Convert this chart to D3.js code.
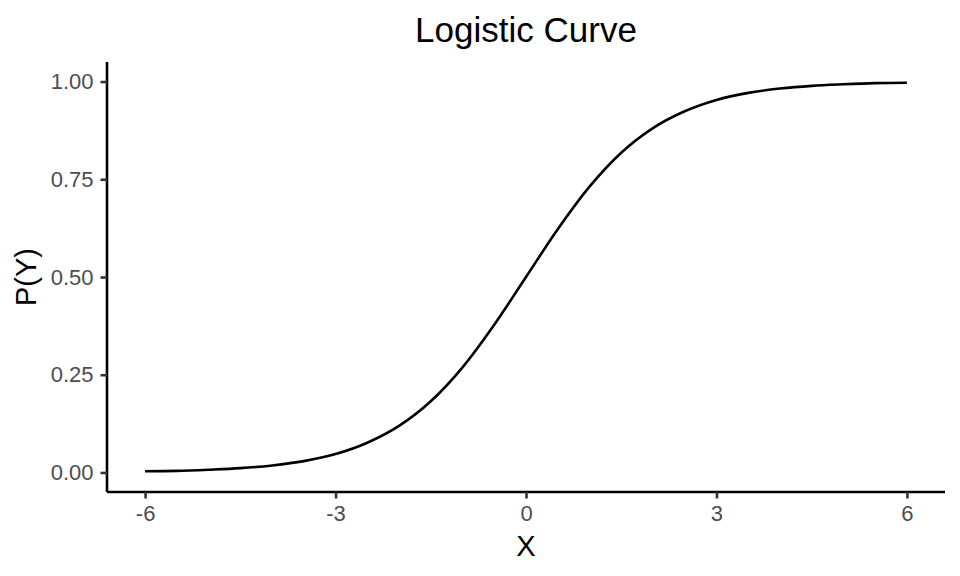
<!DOCTYPE html>
<html>
<head>
<meta charset="utf-8">
<script src="https://cdn.jsdelivr.net/npm/d3@7"></script>
<style>
  body { margin: 0; background: #fff; }
  svg text { font-family: "Liberation Sans", Arial, sans-serif; }
</style>
</head>
<body>
<svg id="chart" width="960" height="576"></svg>
<script>
// values
var xs = [-6, -5.5, -5, -4.5, -4, -3.5, -3, -2.5, -2, -1.5, -1, -0.5, 0,
          0.5, 1, 1.5, 2, 2.5, 3, 3.5, 4, 4.5, 5, 5.5, 6];
var ys = [0.003, 0.004, 0.007, 0.011, 0.018, 0.029, 0.047, 0.076, 0.119, 0.182, 0.269, 0.378, 0.5,
          0.622, 0.731, 0.818, 0.881, 0.924, 0.953, 0.971, 0.982, 0.989, 0.993, 0.996, 0.997];
var xTicks = [-6, -3, 0, 3, 6];
var yTicks = [0, 0.25, 0.5, 0.75, 1];

var svg = d3.select("#chart");
var margin = {top: 62, right: 15, bottom: 84, left: 107};
var width = 960 - margin.left - margin.right,
    height = 576 - margin.top - margin.bottom;

var x = d3.scaleLinear().domain([-6.6, 6.6]).range([0, width]);
var y = d3.scaleLinear().domain([-0.05, 1.05]).range([height, 0]);

var g = svg.append("g").attr("transform", "translate(" + margin.left + "," + margin.top + ")");

var pts = xs.map(function(d, i) { return {x: d, y: ys[i]}; });

var line = d3.line()
    .x(function(d) { return x(d.x); })
    .y(function(d) { return y(d.y); })
    .curve(d3.curveMonotoneX);

g.append("path")
    .datum(pts)
    .attr("fill", "none")
    .attr("stroke", "#000")
    .attr("stroke-width", 2.6)
    .attr("d", line);

var xAxis = g.append("g")
    .attr("transform", "translate(0," + height + ")")
    .call(d3.axisBottom(x).tickValues(xTicks).tickFormat(function(d) { return String(d); })
          .tickSize(6.5).tickPadding(7));
var yAxis = g.append("g")
    .call(d3.axisLeft(y).tickValues(yTicks).tickFormat(d3.format(".2f")).tickSize(6.5).tickPadding(7));

[xAxis, yAxis].forEach(function(a) {
    a.attr("font-size", 22).attr("font-family", null);
    a.select(".domain").attr("stroke", "#000").attr("stroke-width", 2.6);
    a.selectAll(".tick line").attr("stroke", "#333").attr("stroke-width", 2.6);
    a.selectAll(".tick text").attr("fill", "#4D4D4D");
});
xAxis.select(".domain").attr("d", "M0,0H" + width);
yAxis.select(".domain").attr("d", "M0," + height + "V0");

svg.append("text")
    .attr("x", margin.left + width / 2)
    .attr("y", 42)
    .attr("text-anchor", "middle")
    .style("font-size", "35px")
    .attr("fill", "#000")
    .text("Logistic Curve");

svg.append("text")
    .attr("x", margin.left + width / 2)
    .attr("y", 556)
    .attr("text-anchor", "middle")
    .style("font-size", "29px")
    .attr("fill", "#000")
    .text("X");

svg.append("text")
    .attr("transform", "translate(36," + (margin.top + height / 2) + ") rotate(-90)")
    .attr("text-anchor", "middle")
    .style("font-size", "29px")
    .attr("fill", "#000")
    .text("P(Y)");
</script>
</body>
</html>
